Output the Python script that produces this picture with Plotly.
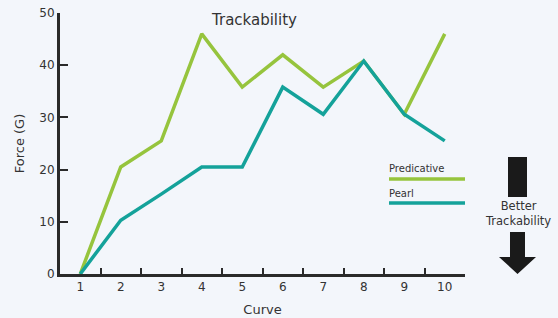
import plotly.graph_objects as go

curves = [1, 2, 3, 4, 5, 6, 7, 8, 9, 10]
predicative = [0, 20.5, 25.5, 46, 35.8, 42, 35.8, 40.8, 30.6, 46]
pearl = [0, 10.3, 15.3, 20.5, 20.5, 35.8, 30.6, 40.8, 30.6, 25.5]
y_ticks = [0, 10, 20, 30, 40, 50]

GREEN = "#96c43d"
TEAL = "#14a29a"
DARK = "#2a2a2a"
TXT = "#333333"
BG = "#f3f6fb"
FONT = "DejaVu Sans"

L, R, T, B = 60, 93, 13, 44
W, H = 558, 318
pw, ph = W - L - R, H - T - B

def px(x):
    return (x - L) / pw

def py(y):
    return (H - B - y) / ph

fig = go.Figure()
fig.add_trace(go.Scatter(x=curves, y=predicative, mode="lines", name="Predicative",
                         line=dict(color=GREEN, width=3.5), cliponaxis=False))
fig.add_trace(go.Scatter(x=curves, y=pearl, mode="lines", name="Pearl",
                         line=dict(color=TEAL, width=3.5), cliponaxis=False))

shapes = []
shapes.append(dict(type="line", xref="paper", yref="paper", x0=px(389), x1=px(465),
                   y0=py(179), y1=py(179), line=dict(color=GREEN, width=3.5)))
shapes.append(dict(type="line", xref="paper", yref="paper", x0=px(389), x1=px(465),
                   y0=py(203), y1=py(203), line=dict(color=TEAL, width=3.5)))
shapes.append(dict(type="rect", xref="paper", yref="paper", x0=px(508), x1=px(527),
                   y0=py(197), y1=py(157), fillcolor="#1a1a1a", line=dict(width=0)))
path_pts = [(510, 232), (525, 232), (525, 257), (536, 257), (517.5, 274), (499, 257), (510, 257)]
path = "M " + " L ".join(f"{px(a):.5f},{py(b):.5f}" for a, b in path_pts) + " Z"
shapes.append(dict(type="path", xref="paper", yref="paper", path=path,
                   fillcolor="#1a1a1a", line=dict(width=0)))

annotations = [
    dict(text="Trackability", xref="paper", yref="paper", x=px(254), y=py(20),
         showarrow=False, font=dict(size=15, color=TXT, family=FONT), xanchor="center", yanchor="middle"),
    dict(text="Predicative", xref="paper", yref="paper", x=px(387), y=py(168),
         showarrow=False, font=dict(size=10, color=TXT, family=FONT), xanchor="left", yanchor="middle"),
    dict(text="Pearl", xref="paper", yref="paper", x=px(387), y=py(193),
         showarrow=False, font=dict(size=10, color=TXT, family=FONT), xanchor="left", yanchor="middle"),
    dict(text="Better<br>Trackability", xref="paper", yref="paper", x=px(517.5), y=py(213),
         showarrow=False, font=dict(size=11.5, color=TXT, family=FONT), xanchor="center", yanchor="middle"),
]

fig.update_layout(
    width=W, height=H,
    margin=dict(l=L, r=R, t=T, b=B, autoexpand=False),
    paper_bgcolor=BG, plot_bgcolor=BG,
    showlegend=False,
    font=dict(family=FONT, color=TXT, size=12),
    shapes=shapes, annotations=annotations,
    xaxis=dict(range=[0.5, 10.5], tickmode="array", tickvals=curves, ticktext=[str(c) for c in curves],
               showgrid=False, zeroline=False, showline=True, linecolor=DARK, linewidth=3,
               ticks="", automargin=False, title=dict(text="Curve", font=dict(size=13), standoff=12),
               tickfont=dict(size=12)),
    xaxis2=dict(range=[0.5, 10.5], overlaying="x", tickmode="array", side="bottom",
                tickvals=[c + 0.5 for c in curves], ticks="inside", ticklen=6, tickwidth=2,
                tickcolor=DARK, showticklabels=False, showgrid=False, zeroline=False, anchor="y",
                automargin=False),
    yaxis=dict(range=[0, 50], tickvals=y_ticks, showgrid=False, zeroline=False, showline=True,
               linecolor=DARK, linewidth=3, ticks="inside", ticklen=8, tickwidth=2, tickcolor=DARK,
               automargin=False, title=dict(text="Force (G)", font=dict(size=13), standoff=12),
               tickfont=dict(size=12)),
)
fig.add_trace(go.Scatter(x=[None], y=[None], xaxis="x2", showlegend=False, hoverinfo="skip"))

fig.write_html("out.html", config={"displayModeBar": False},
               post_script="document.body.style.margin='0';")
